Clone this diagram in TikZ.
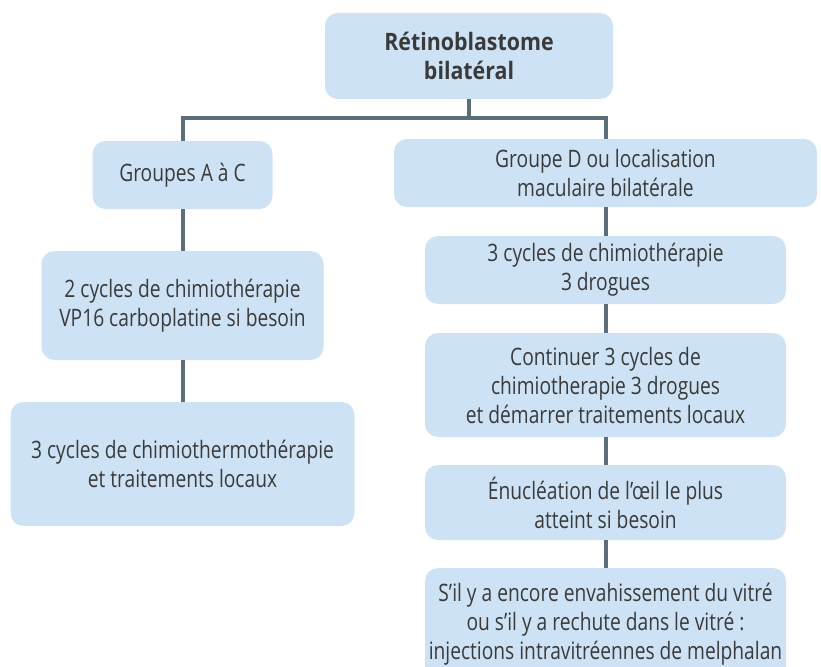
\documentclass[tikz,border=0pt]{standalone}
\usepackage{fontspec}
\setmainfont{Open Sans}[FakeStretch = 0.8, BoldFeatures = {FakeStretch = 0.89}]
\usepackage{xcolor}
\usepackage{tikz}
\definecolor{boite}{HTML}{CDE3F5}
\definecolor{trait}{HTML}{5B6F7B}
\definecolor{texte}{HTML}{3A3A3A}

\begin{document}
\begin{tikzpicture}[x = 1pt, y = -1pt,
  boite/.style = {fill = boite, rounded corners = 13pt, align = center, text = texte, font = \fontsize{24}{29}\selectfont, inner sep = 0pt},
  lien/.style = {draw = trait, line width = 4pt}]
\def\largD{361}
\def\xD{605.5}
\def\xG{182.5}

\useasboundingbox (0, 0) rectangle (821, 666);
\clip (0, 0) rectangle (821, 666);

% titre
\node [boite, minimum width = 288, minimum height = 86, font = \fontsize{24}{29}\selectfont\bfseries] (titre) at (469, 56) {Rétinoblastome\\bilatéral};

% branche gauche
\node [boite, minimum width = 180, minimum height = 68] (grpAC) at (\xG, 175) {Groupes A à C};
\node [boite, minimum width = 282, minimum height = 109] (chimioVP) at (\xG, 305.5) {2 cycles de chimiothérapie\\VP16 carboplatine si besoin};
\node [boite, minimum width = 344, minimum height = 124] (thermo) at (\xG, 464) {3 cycles de chimiothermothérapie\\et traitements locaux};

% branche droite
\node [boite, minimum width = 423, minimum height = 68] (grpD) at (\xD, 173) {Groupe D ou localisation\\maculaire bilatérale};
\node [boite, minimum width = \largD, minimum height = 68] (chimioD) at (\xD, 270) {3 cycles de chimiothérapie\\3 drogues};
\node [boite, minimum width = \largD, minimum height = 104] (continuer) at (\xD, 385) {Continuer 3 cycles de\\chimiotherapie 3 drogues\\et démarrer traitements locaux};
\node [boite, minimum width = \largD, minimum height = 75] (enucl) at (\xD, 502.5) {Énucléation de l’œil le plus\\atteint si besoin};
\node [boite, minimum width = \largD, minimum height = 112] (melph) at (\xD, 624) {S’il y a encore envahissement du vitré\\ou s’il y a rechute dans le vitré :\\injections intravitréennes de melphalan};

% liens
\coordinate (jonction) at (469, 118);
\draw [lien] (titre.south) -- (jonction);
\draw [lien] (grpAC.north) |- (jonction) -| (grpD.north);
\draw [lien] (grpAC.south) -- (chimioVP.north);
\draw [lien] (chimioVP.south) -- (thermo.north);
\draw [lien] (grpD.south) -- (chimioD.north);
\draw [lien] (chimioD.south) -- (continuer.north);
\draw [lien] (continuer.south) -- (enucl.north);
\draw [lien] (enucl.south) -- (melph.north);
\end{tikzpicture}
\end{document}
